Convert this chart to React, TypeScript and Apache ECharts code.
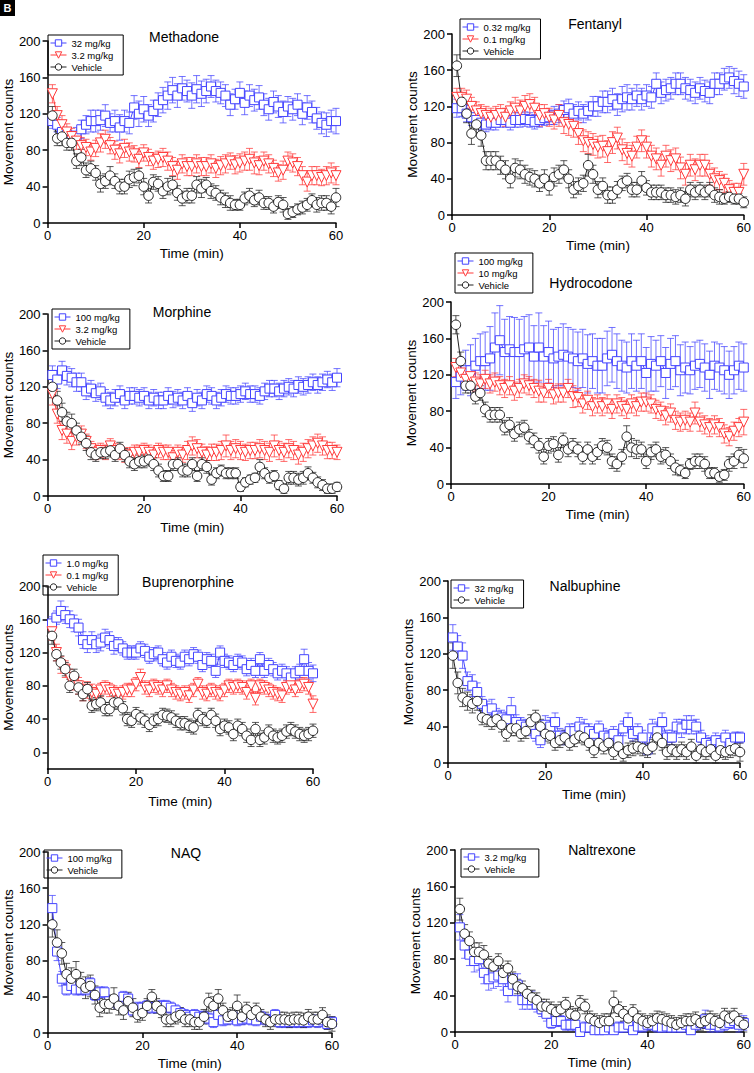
import React, { useEffect, useRef } from "react";
import * as echarts from "echarts";

const FONT = "'Liberation Sans', Arial, Helvetica, sans-serif";

// time points (min)
const minutes = [
  1, 2, 3, 4, 5, 6, 7, 8, 9, 10, 11, 12, 13, 14, 15, 16, 17, 18, 19, 20,
  21, 22, 23, 24, 25, 26, 27, 28, 29, 30, 31, 32, 33, 34, 35, 36, 37, 38, 39, 40,
  41, 42, 43, 44, 45, 46, 47, 48, 49, 50, 51, 52, 53, 54, 55, 56, 57, 58, 59, 60,
];
const xTicks = [0, 20, 40, 60];
const yTicks = [0, 40, 80, 120, 160, 200];

// ---------- Methadone ----------
const methadone32 = [112,108,100,97,92,96,103,108,112,112,113,118,110,112,105,112,110,127,120,125,118,123,130,135,140,146,140,148,145,140,147,142,145,150,145,143,140,130,136,143,132,140,135,138,130,125,133,128,122,128,125,130,120,127,122,115,110,108,112,112];
const methadone32Err = [8,8,9,8,8,9,10,10,12,12,11,12,10,12,14,12,12,13,14,14,12,12,13,14,15,14,13,13,12,14,15,14,13,12,12,12,12,12,11,12,13,12,12,13,12,12,12,12,12,11,12,12,12,13,12,12,12,13,12,14];
const methadone3 = [142,118,108,100,95,90,85,83,78,82,88,92,85,80,76,82,78,76,70,77,72,68,70,72,68,62,58,65,62,62,65,62,62,65,60,63,65,68,64,66,68,70,66,63,68,65,60,55,58,68,66,62,52,45,52,52,50,52,55,52];
const methadone3Err = [10,10,10,9,9,9,9,9,9,9,10,10,9,10,10,10,10,9,9,9,9,9,9,10,10,10,10,10,10,10,10,10,10,10,10,10,10,9,10,10,10,12,12,10,10,10,9,9,10,10,10,10,10,10,10,10,9,10,11,10];
const methadoneVeh = [118,93,95,88,88,68,72,58,60,55,43,46,52,46,40,40,48,50,52,40,30,45,43,35,40,42,33,27,30,30,42,38,42,35,33,28,25,22,20,20,27,30,25,28,22,22,18,23,20,10,12,15,17,20,25,20,22,22,18,28];
const methadoneVehErr = [10,8,10,8,8,8,9,8,8,8,9,8,10,8,8,8,9,9,8,9,8,8,8,8,9,9,8,8,8,8,9,10,8,8,8,8,8,8,6,6,7,8,7,8,7,7,7,7,8,6,6,6,7,7,7,8,8,8,8,10];

// ---------- Fentanyl ----------
const fentanyl032 = [118,118,112,108,105,102,100,102,102,105,105,102,105,105,106,105,103,105,107,108,110,112,116,118,112,115,112,115,120,120,125,125,128,122,128,130,128,132,128,132,130,145,135,138,140,145,145,140,138,135,140,137,135,145,145,150,152,148,145,142];
const fentanyl032Err = [10,9,9,9,8,8,8,8,8,8,8,8,8,8,8,8,8,8,8,8,10,10,10,10,10,10,10,10,11,11,12,12,12,12,14,14,12,12,12,12,12,12,12,12,12,12,12,12,12,12,12,12,12,12,12,12,12,14,14,13];
const fentanyl01 = [130,130,128,120,115,112,110,108,110,112,108,115,118,115,120,122,118,110,112,108,105,110,102,100,98,90,82,80,78,75,76,70,80,85,72,68,65,75,82,75,65,62,55,65,60,62,52,45,55,50,55,55,45,40,38,35,28,25,25,45];
const fentanyl01Err = [10,10,10,10,10,10,10,10,10,10,10,10,12,12,12,12,12,12,10,10,10,12,12,12,12,12,12,12,12,12,12,12,12,12,12,12,12,12,12,12,12,12,12,12,12,12,12,12,12,12,12,12,12,12,10,10,10,10,10,12];
const fentanylVeh = [165,125,112,90,100,88,60,60,60,55,50,40,52,50,45,42,40,35,40,32,42,45,50,40,28,32,35,55,45,28,32,22,22,28,35,38,28,28,38,30,25,25,25,22,22,20,22,18,28,25,28,25,28,22,20,18,20,18,18,14];
const fentanylVehErr = [12,10,10,12,10,12,10,10,10,10,10,10,10,10,10,9,9,9,10,10,10,10,10,10,9,9,9,12,10,9,9,9,9,9,8,8,8,8,10,8,8,8,8,8,8,8,8,8,8,8,8,8,8,8,8,6,6,6,6,6];

// ---------- Morphine ----------
const morphine100 = [133,128,138,132,130,125,125,115,118,113,115,108,105,108,112,105,110,110,108,110,105,108,105,105,110,106,108,105,110,102,108,105,112,110,105,108,112,110,110,112,115,112,112,110,115,118,118,115,118,120,118,122,120,122,125,122,125,128,125,130];
const morphine100Err = [10,10,10,10,10,10,10,9,9,9,9,9,9,9,9,9,9,9,9,9,9,9,9,9,9,9,9,9,9,9,9,9,9,9,9,9,9,9,9,9,9,9,9,9,9,9,9,9,9,9,9,9,9,9,9,9,9,9,9,10];
const morphine3 = [112,90,72,68,60,65,68,60,52,48,50,48,55,50,48,45,45,48,48,50,48,45,50,48,48,42,48,45,50,55,52,48,45,48,48,50,55,50,52,50,48,50,50,52,50,48,55,50,48,52,50,45,48,52,55,58,55,50,50,48];
const morphine3Err = [12,10,10,10,9,9,9,8,8,8,8,8,8,8,8,8,8,8,8,8,8,8,8,8,8,8,8,8,10,10,10,9,9,9,9,10,12,10,10,10,9,9,9,10,10,10,12,10,10,10,10,10,10,10,10,10,10,9,9,8];
const morphineVeh = [120,105,92,82,80,72,65,58,48,45,48,48,50,45,52,45,38,35,38,38,40,35,28,22,22,35,35,28,28,35,22,35,32,18,25,28,25,25,25,10,15,18,20,32,25,20,22,12,8,20,20,18,20,25,20,15,12,8,8,10];
const morphineVehErr = [12,10,10,10,10,8,8,8,8,7,7,7,7,7,7,7,7,7,7,7,7,7,7,6,6,7,7,7,7,7,6,7,7,6,6,6,6,6,6,5,5,5,5,8,6,6,6,5,5,7,7,7,7,7,6,6,6,5,5,5];

// ---------- Hydrocodone ----------
const hydrocodone100 = [112,118,125,125,130,135,135,138,150,158,145,148,145,145,148,150,140,150,140,145,138,140,142,140,138,135,138,132,135,130,130,138,142,135,130,128,135,130,135,122,132,130,135,122,132,135,125,128,125,130,132,128,120,130,128,125,120,125,130,128];
const hydrocodone100Err = [18,20,22,28,30,30,32,35,38,38,36,36,38,36,36,36,34,38,34,34,32,32,34,32,32,32,32,32,30,30,30,30,30,30,28,28,30,28,30,28,30,28,28,28,28,28,28,28,26,26,26,26,26,26,26,26,26,26,26,26];
const hydrocodone10 = [128,122,115,118,112,110,115,110,112,108,105,108,102,105,110,108,105,102,100,105,98,100,100,105,96,95,88,92,85,88,85,88,82,88,85,82,88,85,90,90,88,82,80,75,78,70,68,70,68,78,68,65,62,65,62,55,52,58,62,68];
const hydrocodone10Err = [10,10,10,10,10,10,10,10,10,10,10,10,10,10,10,10,10,12,10,10,10,10,10,10,12,10,10,10,10,10,10,10,10,10,10,10,10,10,10,10,10,10,10,10,10,10,10,10,10,12,10,10,10,10,10,10,10,10,10,14];
const hydrocodoneVeh = [175,135,108,108,96,100,82,76,76,76,62,65,55,60,62,52,48,42,30,42,44,32,48,38,42,38,30,38,30,35,42,40,25,22,30,52,40,38,38,25,35,38,30,32,25,18,15,12,22,25,25,22,12,12,8,10,22,25,32,28];
const hydrocodoneVehErr = [10,10,8,8,8,8,8,8,8,8,8,8,8,8,8,8,8,8,8,8,8,8,8,8,8,8,8,8,8,8,8,8,8,8,8,12,10,10,8,8,8,8,8,8,8,8,6,6,6,8,8,8,6,6,6,6,8,8,8,10];

// ---------- Buprenorphine ----------
const buprenorphine10 = [155,162,170,165,160,155,150,135,130,135,130,132,138,135,128,130,125,120,120,120,125,122,115,118,120,112,108,115,110,108,115,112,118,115,105,112,110,98,120,110,108,105,110,108,100,105,98,112,98,105,100,95,98,95,90,95,98,112,98,95];
const buprenorphine10Err = [8,8,12,10,10,10,10,10,10,10,10,10,10,10,10,8,8,8,8,8,8,8,8,8,8,8,8,8,8,8,8,8,8,8,8,8,8,8,8,8,8,8,8,8,8,8,8,8,8,8,8,8,8,8,8,8,8,12,10,10];
const buprenorphine01 = [145,120,105,100,90,85,80,72,75,72,70,75,78,75,72,70,72,75,75,82,90,78,75,80,78,75,80,75,72,70,72,68,75,82,72,70,75,72,70,75,80,78,80,78,72,80,65,80,78,75,72,70,68,78,80,75,80,82,78,58];
const buprenorphine01Err = [10,10,10,10,10,10,10,10,10,10,8,8,8,8,8,8,8,8,8,8,10,8,8,8,8,8,8,8,8,8,8,8,8,8,8,8,8,8,8,8,8,8,8,8,8,8,8,8,8,8,8,8,8,8,8,8,8,8,8,10];
const buprenorphineVeh = [140,118,108,100,80,92,78,70,76,56,58,60,52,52,60,60,53,40,38,46,42,38,33,38,40,45,44,42,38,35,35,32,30,45,40,38,45,38,28,32,30,22,32,28,20,15,28,15,18,25,20,18,20,25,28,25,22,20,22,26];
const buprenorphineVehErr = [10,8,8,8,8,8,8,8,8,8,8,8,8,8,8,8,8,8,8,8,8,8,8,8,8,8,8,8,8,8,8,8,8,8,8,8,8,8,8,8,8,8,8,8,8,8,8,8,8,8,8,8,8,8,8,8,8,8,8,8];

// ---------- Nalbuphine ----------
const nalbuphine32 = [138,128,118,90,85,78,65,58,60,52,50,48,58,45,42,40,38,32,25,42,40,45,30,28,35,35,40,38,35,32,38,30,28,32,25,38,45,32,35,28,15,38,35,45,28,28,40,38,42,42,40,28,22,20,25,22,28,22,28,28];
const nalbuphine32Err = [14,12,14,10,12,10,8,10,10,8,8,8,14,8,8,8,8,8,8,10,10,10,8,8,8,8,10,10,8,8,8,8,8,8,8,8,10,8,8,8,6,10,10,10,8,8,8,10,10,10,8,8,8,8,8,8,8,8,6,6];
const nalbuphineVeh = [118,88,72,68,65,68,50,48,45,48,42,32,38,38,32,35,45,50,40,32,30,22,25,28,22,26,30,28,22,14,22,18,22,12,18,10,14,16,18,16,14,18,28,22,12,15,12,15,12,18,8,15,12,15,8,14,12,14,16,12];
const nalbuphineVehErr = [14,12,10,10,10,10,8,8,8,8,8,8,8,8,8,8,8,8,8,8,8,8,8,8,8,8,8,8,8,8,8,8,8,8,8,8,8,8,8,8,8,8,8,8,8,8,8,8,8,8,8,8,8,8,8,8,8,8,8,10];

// ---------- NAQ ----------
const naq100 = [138,90,60,48,52,48,48,48,55,42,45,45,35,35,32,40,38,25,28,28,30,28,28,30,30,28,25,22,20,18,20,18,18,16,12,20,14,15,18,14,15,16,15,14,18,15,14,20,12,12,12,12,12,12,12,14,12,14,10,12];
const naq100Err = [14,10,8,6,6,6,6,6,6,6,6,6,6,6,6,6,6,6,6,6,6,6,6,6,6,6,6,6,6,6,6,6,6,6,6,6,6,6,6,6,6,6,6,6,6,6,6,6,6,6,6,6,6,6,6,6,6,6,6,6];
const naqVeh = [120,100,88,65,60,65,55,50,52,42,28,32,32,38,30,25,35,28,20,22,30,40,30,25,15,15,18,20,15,15,12,12,18,34,30,38,25,18,20,30,18,26,20,25,18,15,12,15,15,15,14,15,15,14,18,15,15,20,12,10];
const naqVehErr = [14,14,12,12,12,14,12,12,12,10,10,10,10,12,10,10,10,10,8,8,8,8,8,8,8,8,8,8,8,8,8,8,8,10,10,10,8,8,8,12,8,8,8,8,8,8,8,8,8,8,8,8,8,8,8,8,8,8,8,8];

// ---------- Naltrexone ----------
const naltrexone32 = [115,95,85,78,80,65,58,60,62,58,45,52,52,35,35,35,30,25,20,10,12,12,8,8,8,0,5,5,2,2,2,5,2,5,5,8,2,6,6,8,8,6,5,6,5,5,5,8,2,8,10,14,8,8,6,8,10,12,8,10];
const naltrexone32Err = [14,14,12,12,12,12,12,12,12,12,12,12,12,10,10,10,8,8,8,6,6,6,6,6,6,6,6,6,6,6,6,6,6,6,6,6,6,6,6,6,6,6,6,6,6,6,6,6,6,6,6,10,8,8,6,6,6,8,8,8];
const naltrexoneVeh = [135,108,100,88,88,85,75,72,78,65,70,58,50,48,42,38,35,28,28,25,22,25,30,20,18,32,28,15,12,10,12,12,33,25,20,15,22,15,12,10,12,15,14,12,10,8,10,12,12,14,10,12,15,12,10,18,15,18,12,8];
const naltrexoneVehErr = [12,10,10,10,10,10,8,8,8,8,8,8,8,8,8,8,8,8,8,8,8,8,8,8,8,8,8,8,8,8,8,8,12,8,8,8,8,8,8,8,8,8,8,8,8,8,8,8,8,8,8,8,8,8,8,8,8,8,8,8];

// ---------- styles ----------
const KIND_STYLE: Record<string, { color: string; symbol: string; rotate: number; size: number }> = {
  high: { color: "#4444ff", symbol: "rect", rotate: 0, size: 9 },
  low: { color: "#ff3a3a", symbol: "triangle", rotate: 180, size: 10 },
  veh: { color: "#222222", symbol: "circle", rotate: 0, size: 9.5 },
};

type SeriesDef = { name: string; kind: string; values: number[]; err: number[] };
type PanelDef = {
  title: string;
  series: SeriesDef[];
  yMin: number;
  grid: { left: number; top: number; width: number; height: number };
  titlePos: [number, number];
  legendPos: [number, number];
  yNameGap: number;
  xNameGap: number;
};

const panels: PanelDef[] = [
  {
    title: "Methadone",
    series: [
      { name: "32 mg/kg", kind: "high", values: methadone32, err: methadone32Err },
      { name: "3.2 mg/kg", kind: "low", values: methadone3, err: methadone3Err },
      { name: "Vehicle", kind: "veh", values: methadoneVeh, err: methadoneVehErr },
    ],
    yMin: 0,
    grid: { left: 44, top: 41, width: 292, height: 182 },
    titlePos: [184, 37],
    legendPos: [48, 35],
    yNameGap: 30,
    xNameGap: 23,
  },
  {
    title: "Fentanyl",
    series: [
      { name: "0.32 mg/kg", kind: "high", values: fentanyl032, err: fentanyl032Err },
      { name: "0.1 mg/kg", kind: "low", values: fentanyl01, err: fentanyl01Err },
      { name: "Vehicle", kind: "veh", values: fentanylVeh, err: fentanylVehErr },
    ],
    yMin: 0,
    grid: { left: 452, top: 34, width: 292, height: 181 },
    titlePos: [595, 24],
    legendPos: [460, 19],
    yNameGap: 27,
    xNameGap: 23,
  },
  {
    title: "Morphine",
    series: [
      { name: "100 mg/kg", kind: "high", values: morphine100, err: morphine100Err },
      { name: "3.2 mg/kg", kind: "low", values: morphine3, err: morphine3Err },
      { name: "Vehicle", kind: "veh", values: morphineVeh, err: morphineVehErr },
    ],
    yMin: 0,
    grid: { left: 44, top: 314, width: 293, height: 182 },
    titlePos: [182, 312],
    legendPos: [52, 309],
    yNameGap: 27,
    xNameGap: 24,
  },
  {
    title: "Hydrocodone",
    series: [
      { name: "100 mg/kg", kind: "high", values: hydrocodone100, err: hydrocodone100Err },
      { name: "10 mg/kg", kind: "low", values: hydrocodone10, err: hydrocodone10Err },
      { name: "Vehicle", kind: "veh", values: hydrocodoneVeh, err: hydrocodoneVehErr },
    ],
    yMin: 0,
    grid: { left: 451, top: 302, width: 293, height: 182 },
    titlePos: [591, 283],
    legendPos: [455, 253],
    yNameGap: 28,
    xNameGap: 23,
  },
  {
    title: "Buprenorphine",
    series: [
      { name: "1.0 mg/kg", kind: "high", values: buprenorphine10, err: buprenorphine10Err },
      { name: "0.1 mg/kg", kind: "low", values: buprenorphine01, err: buprenorphine01Err },
      { name: "Vehicle", kind: "veh", values: buprenorphineVeh, err: buprenorphineVehErr },
    ],
    yMin: -20,
    grid: { left: 40, top: 586, width: 273, height: 183 },
    titlePos: [188, 582],
    legendPos: [43, 555],
    yNameGap: 27,
    xNameGap: 25,
  },
  {
    title: "Nalbuphine",
    series: [
      { name: "32 mg/kg", kind: "high", values: nalbuphine32, err: nalbuphine32Err },
      { name: "Vehicle", kind: "veh", values: nalbuphineVeh, err: nalbuphineVehErr },
    ],
    yMin: 0,
    grid: { left: 448, top: 581, width: 292, height: 182 },
    titlePos: [585, 586],
    legendPos: [451, 580],
    yNameGap: 28,
    xNameGap: 24,
  },
  {
    title: "NAQ",
    series: [
      { name: "100 mg/kg", kind: "high", values: naq100, err: naq100Err },
      { name: "Vehicle", kind: "veh", values: naqVeh, err: naqVehErr },
    ],
    yMin: 0,
    grid: { left: 40, top: 852, width: 292, height: 181 },
    titlePos: [186, 853],
    legendPos: [44, 850],
    yNameGap: 28,
    xNameGap: 23,
  },
  {
    title: "Naltrexone",
    series: [
      { name: "3.2 mg/kg ", kind: "high", values: naltrexone32, err: naltrexone32Err },
      { name: "Vehicle", kind: "veh", values: naltrexoneVeh, err: naltrexoneVehErr },
    ],
    yMin: 0,
    grid: { left: 455, top: 850, width: 292, height: 182 },
    titlePos: [602, 850],
    legendPos: [461, 849],
    yNameGap: 29,
    xNameGap: 23,
  },
];

function buildOption() {
  const grids: any[] = [];
  const xAxes: any[] = [];
  const yAxes: any[] = [];
  const series: any[] = [];
  const legends: any[] = [];
  const graphics: any[] = [];

  panels.forEach((p, gi) => {
    grids.push({ ...p.grid, containLabel: false });
    xAxes.push({
      type: "value",
      gridIndex: gi,
      min: 0,
      max: 60,
      interval: 20,
      splitLine: { show: false },
      axisLine: { onZero: false, lineStyle: { color: "#000", width: 1.5 } },
      axisTick: { show: true, length: 5, lineStyle: { color: "#000", width: 1.5 } },
      axisLabel: { color: "#000", fontSize: 13, fontFamily: FONT, margin: 6, customValues: xTicks },
      name: "Time (min)",
      nameLocation: "middle",
      nameGap: p.xNameGap,
      nameTextStyle: { color: "#000", fontSize: 13.5, fontFamily: FONT },
    });
    const yAxis: any = {
      type: "value",
      gridIndex: gi,
      min: p.yMin,
      max: 200,
      splitLine: { show: false },
      axisLine: { onZero: false, lineStyle: { color: "#000", width: 1.5 } },
      axisTick: { show: true, length: 5, lineStyle: { color: "#000", width: 1.5 }, customValues: yTicks },
      axisLabel: { color: "#000", fontSize: 13, fontFamily: FONT, margin: 7, customValues: yTicks },
      name: "Movement counts",
      nameLocation: "middle",
      nameGap: p.yNameGap,
      nameTextStyle: { color: "#000", fontSize: 13.5, fontFamily: FONT },
    };
    if (p.yMin === 0) yAxis.interval = 40;
    yAxes.push(yAxis);

    p.series.forEach((s) => {
      const st = KIND_STYLE[s.kind];
      const errData = minutes.map((m, i) => [m, s.values[i], s.err[i]]);
      series.push({
        type: "custom",
        name: "err-" + gi + "-" + s.kind,
        xAxisIndex: gi,
        yAxisIndex: gi,
        z: 1,
        silent: true,
        clip: false,
        encode: { x: 0, y: 1 },
        data: errData,
        renderItem: (params: any, api: any) => {
          const x = api.value(0);
          const y = api.value(1);
          const e = api.value(2);
          const lo = Math.max(y - e, p.yMin);
          const top = api.coord([x, y + e]);
          const bot = api.coord([x, lo]);
          const hw = 3.5;
          const style = { stroke: st.color, lineWidth: 1, opacity: 0.75 };
          return {
            type: "group",
            children: [
              { type: "line", shape: { x1: top[0], y1: top[1], x2: bot[0], y2: bot[1] }, style },
              { type: "line", shape: { x1: top[0] - hw, y1: top[1], x2: top[0] + hw, y2: top[1] }, style },
              { type: "line", shape: { x1: bot[0] - hw, y1: bot[1], x2: bot[0] + hw, y2: bot[1] }, style },
            ],
          };
        },
      });
      series.push({
        type: "line",
        name: s.name,
        xAxisIndex: gi,
        yAxisIndex: gi,
        z: 3,
        data: minutes.map((m, i) => [m, s.values[i]]),
        symbol: st.symbol,
        symbolSize: st.size,
        symbolRotate: st.rotate,
        showAllSymbol: true,
        color: st.color,
        itemStyle: { color: "#fff", borderColor: st.color, borderWidth: 1 },
        lineStyle: { color: st.color, width: 1 },
        emphasis: { disabled: true },
      });
    });

    legends.push({
      left: p.legendPos[0],
      top: p.legendPos[1],
      orient: "vertical",
      data: p.series.map((s) => {
        const st = KIND_STYLE[s.kind];
        return {
          name: s.name,
          itemStyle: { color: "#fff", borderColor: st.color, borderWidth: 1 },
          lineStyle: { color: st.color, width: 1 },
        };
      }),
      borderColor: "#000",
      borderWidth: 1,
      borderRadius: 0,
      padding: [3, 10, 3, 2],
      itemGap: 2,
      itemWidth: 16,
      itemHeight: 8,
      selectedMode: false,
      textStyle: { color: "#000", fontSize: 9.5, fontFamily: FONT },
    });

    graphics.push({
      type: "text",
      x: p.titlePos[0],
      y: p.titlePos[1],
      style: {
        text: p.title,
        fill: "#000",
        font: `14px ${FONT}`,
        textAlign: "center",
        textVerticalAlign: "middle",
      },
    });
  });

  graphics.push({ type: "rect", shape: { x: 0, y: 0, width: 15, height: 16 }, style: { fill: "#000" } });
  graphics.push({
    type: "text",
    x: 7.5,
    y: 8,
    style: { text: "B", fill: "#fff", font: `bold 11px ${FONT}`, textAlign: "center", textVerticalAlign: "middle" },
  });

  return {
    animation: false,
    backgroundColor: "#fff",
    grid: grids,
    xAxis: xAxes,
    yAxis: yAxes,
    legend: legends,
    series,
    graphic: graphics,
  };
}

export default function App() {
  const ref = useRef<HTMLDivElement>(null);
  useEffect(() => {
    if (!ref.current) return;
    const chart = echarts.init(ref.current, undefined, { renderer: "svg" });
    chart.setOption(buildOption() as any);
    return () => chart.dispose();
  }, []);
  return (
    <div
      ref={ref}
      style={{ position: "absolute", left: 0, top: 0, width: 754, height: 1073, background: "#fff" }}
    />
  );
}
